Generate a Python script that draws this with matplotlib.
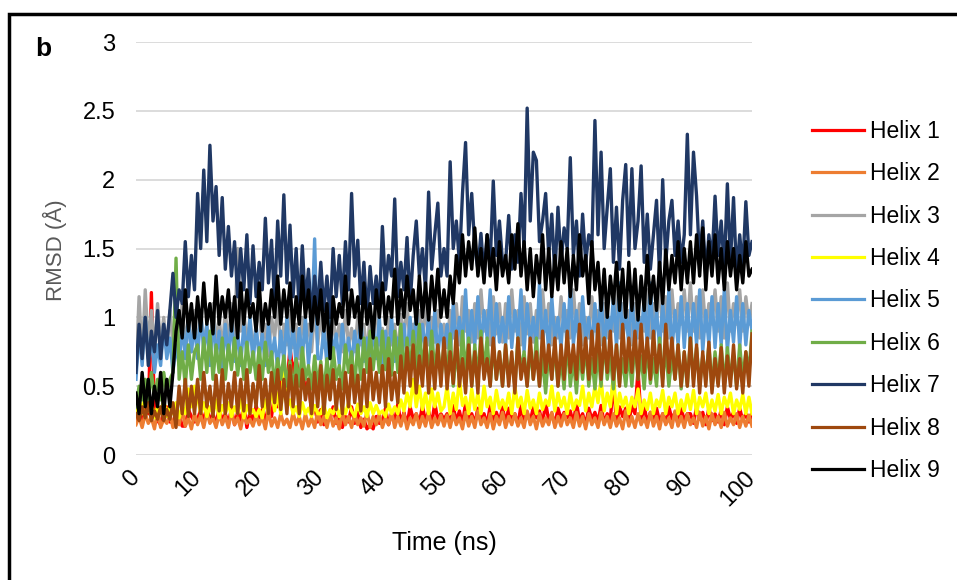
import matplotlib
matplotlib.use("Agg")
import matplotlib.pyplot as plt
from matplotlib.patches import Rectangle

plt.rcParams['font.family'] = ['Liberation Sans', 'DejaVu Sans']

# sampled every 0.5 ns
time_ns = [i * 0.5 for i in range(201)]

helix1 = [0.25, 0.32, 0.22, 0.35, 0.3, 1.18, 0.3, 0.25, 0.22, 0.33, 0.35, 0.24, 0.24, 0.3, 0.3, 0.21, 0.21, 0.33, 0.28, 0.24,
          0.26, 0.33, 0.22, 0.38, 0.24, 0.3, 0.22, 0.34, 0.25, 0.3, 0.23, 0.34, 0.22, 0.31, 0.25, 0.36, 0.2, 0.31, 0.24, 0.36,
          0.27, 0.33, 0.24, 0.36, 0.28, 0.45, 0.35, 0.55, 0.62, 0.5, 0.78, 0.6, 0.7, 0.55, 0.65, 0.45, 0.55, 0.3, 0.35, 0.24,
          0.33, 0.22, 0.3, 0.26, 0.35, 0.23, 0.31, 0.2, 0.28, 0.24, 0.35, 0.23, 0.31, 0.2, 0.26, 0.19, 0.22, 0.19, 0.28, 0.23,
          0.24, 0.34, 0.22, 0.3, 0.25, 0.37, 0.23, 0.31, 0.22, 0.35, 0.26, 0.3, 0.23, 0.36, 0.24, 0.32, 0.22, 0.38, 0.25, 0.3,
          0.26, 0.3, 0.23, 0.36, 0.24, 0.32, 0.22, 0.38, 0.25, 0.3, 0.23, 0.34, 0.26, 0.3, 0.22, 0.36, 0.25, 0.31, 0.24, 0.35,
          0.23, 0.34, 0.26, 0.3, 0.22, 0.36, 0.25, 0.31, 0.24, 0.35, 0.27, 0.32, 0.23, 0.38, 0.25, 0.3, 0.22, 0.34, 0.26, 0.31,
          0.27, 0.32, 0.23, 0.38, 0.25, 0.3, 0.22, 0.34, 0.26, 0.31, 0.24, 0.36, 0.23, 0.3, 0.25, 0.55, 0.22, 0.35, 0.28, 0.34,
          0.24, 0.36, 0.3, 0.62, 0.25, 0.36, 0.23, 0.31, 0.26, 0.34, 0.24, 0.3, 0.23, 0.35, 0.26, 0.31, 0.22, 0.34, 0.25, 0.3,
          0.3, 0.23, 0.35, 0.26, 0.31, 0.22, 0.34, 0.25, 0.3, 0.24, 0.33, 0.22, 0.35, 0.26, 0.31, 0.23, 0.34, 0.25, 0.3, 0.24,
          0.3]
helix2 = [0.22, 0.28, 0.2, 0.3, 0.23, 0.27, 0.19, 0.32, 0.2, 0.26, 0.23, 0.3, 0.2, 0.28, 0.22, 0.33, 0.21, 0.27, 0.19, 0.3,
          0.22, 0.29, 0.2, 0.31, 0.23, 0.27, 0.2, 0.3, 0.22, 0.28, 0.2, 0.31, 0.22, 0.27, 0.19, 0.3, 0.23, 0.26, 0.21, 0.29,
          0.22, 0.28, 0.19, 0.32, 0.21, 0.27, 0.2, 0.3, 0.22, 0.26, 0.2, 0.31, 0.22, 0.28, 0.19, 0.3, 0.21, 0.27, 0.2, 0.32,
          0.22, 0.28, 0.2, 0.3, 0.21, 0.27, 0.19, 0.31, 0.22, 0.28, 0.2, 0.3, 0.22, 0.27, 0.21, 0.32, 0.2, 0.28, 0.22, 0.3,
          0.2, 0.27, 0.22, 0.31, 0.2, 0.28, 0.21, 0.3, 0.19, 0.27, 0.22, 0.3, 0.2, 0.28, 0.21, 0.31, 0.2, 0.27, 0.22, 0.29,
          0.21, 0.29, 0.2, 0.3, 0.22, 0.27, 0.19, 0.31, 0.21, 0.28, 0.2, 0.32, 0.22, 0.27, 0.2, 0.3, 0.19, 0.28, 0.22, 0.31,
          0.2, 0.28, 0.22, 0.3, 0.21, 0.27, 0.2, 0.32, 0.22, 0.28, 0.19, 0.3, 0.21, 0.27, 0.22, 0.31, 0.2, 0.28, 0.21, 0.3,
          0.22, 0.27, 0.2, 0.31, 0.21, 0.28, 0.19, 0.3, 0.22, 0.27, 0.2, 0.31, 0.22, 0.28, 0.2, 0.3, 0.21, 0.27, 0.19, 0.32,
          0.21, 0.28, 0.2, 0.3, 0.22, 0.27, 0.2, 0.31, 0.21, 0.28, 0.19, 0.3, 0.22, 0.27, 0.2, 0.32, 0.21, 0.28, 0.2, 0.3,
          0.22, 0.27, 0.2, 0.31, 0.21, 0.28, 0.19, 0.3, 0.22, 0.28, 0.2, 0.31, 0.21, 0.27, 0.22, 0.3, 0.2, 0.28, 0.21, 0.29,
          0.21]
helix3 = [0.6, 1.15, 0.7, 1.2, 0.8, 1.05, 0.75, 1.1, 0.8, 1.0, 0.75, 1.05, 0.8, 0.95, 0.85, 1.1, 0.8, 1.0, 0.75, 1.05,
          0.75, 1.05, 0.8, 0.95, 0.7, 1.1, 0.8, 1.0, 0.75, 1.05, 0.8, 1.1, 0.85, 1.5, 0.9, 1.05, 0.8, 1.0, 0.75, 0.95,
          1.05, 0.8, 0.95, 0.72, 1.0, 0.85, 1.1, 0.75, 0.95, 0.8, 1.05, 0.78, 0.95, 0.7, 1.0, 0.82, 0.95, 0.75, 1.05, 0.8,
          1.05, 0.78, 0.95, 0.7, 1.0, 0.82, 0.95, 0.75, 1.05, 0.8, 0.92, 0.75, 1.0, 0.8, 0.95, 0.72, 1.02, 0.85, 1.1, 0.8,
          0.92, 0.75, 1.0, 0.8, 0.95, 0.72, 1.02, 0.85, 1.1, 0.8, 0.95, 0.78, 1.05, 0.85, 1.1, 0.8, 1.0, 0.82, 1.05, 0.85,
          0.95, 0.78, 1.05, 0.85, 1.1, 0.8, 1.15, 0.9, 1.05, 0.82, 1.1, 0.85, 1.2, 0.9, 1.05, 0.8, 1.15, 0.88, 1.1, 0.82,
          1.1, 0.85, 1.2, 0.9, 1.05, 0.8, 1.15, 0.88, 1.1, 0.82, 1.05, 0.85, 1.2, 0.9, 1.1, 0.8, 1.0, 0.85, 1.15, 0.9,
          1.05, 0.85, 1.2, 0.9, 1.1, 0.8, 1.0, 0.85, 1.15, 0.9, 1.05, 0.8, 1.1, 0.85, 1.0, 0.9, 1.2, 0.85, 1.1, 0.95,
          1.05, 0.8, 1.1, 0.85, 1.0, 0.9, 1.2, 0.85, 1.1, 0.95, 1.25, 0.9, 1.15, 0.85, 1.2, 0.9, 1.1, 0.95, 1.2, 0.9,
          1.25, 0.9, 1.15, 0.85, 1.2, 0.9, 1.1, 0.95, 1.2, 0.9, 1.15, 0.85, 1.25, 0.9, 1.1, 0.95, 1.2, 0.9, 1.15, 0.95,
          1.1]
helix4 = [0.28, 0.4, 0.3, 0.45, 0.32, 0.38, 0.27, 0.35, 0.3, 0.4, 0.28, 0.36, 0.3, 0.38, 0.27, 0.35, 0.3, 0.48, 0.35, 0.5,
          0.42, 0.3, 0.38, 0.28, 0.35, 0.3, 0.4, 0.27, 0.36, 0.3, 0.38, 0.28, 0.35, 0.3, 0.4, 0.27, 0.36, 0.3, 0.33, 0.28,
          0.33, 0.27, 0.4, 0.3, 0.5, 0.32, 0.45, 0.3, 0.65, 0.35, 0.4, 0.3, 0.35, 0.28, 0.38, 0.3, 0.34, 0.28, 0.36, 0.3,
          0.3, 0.37, 0.27, 0.33, 0.3, 0.36, 0.28, 0.35, 0.3, 0.38, 0.32, 0.28, 0.37, 0.3, 0.35, 0.28, 0.38, 0.3, 0.36, 0.3,
          0.32, 0.28, 0.37, 0.3, 0.35, 0.3, 0.4, 0.32, 0.45, 0.35, 0.55, 0.35, 0.5, 0.33, 0.45, 0.3, 0.48, 0.35, 0.45, 0.32,
          0.35, 0.5, 0.3, 0.45, 0.33, 0.55, 0.36, 0.42, 0.3, 0.48, 0.33, 0.45, 0.3, 0.5, 0.35, 0.42, 0.3, 0.47, 0.34, 0.4,
          0.33, 0.45, 0.3, 0.5, 0.35, 0.42, 0.3, 0.47, 0.34, 0.4, 0.3, 0.45, 0.33, 0.4, 0.36, 0.5, 0.32, 0.45, 0.35, 0.42,
          0.3, 0.45, 0.33, 0.4, 0.36, 0.5, 0.32, 0.45, 0.35, 0.5, 0.38, 0.55, 0.32, 0.45, 0.35, 0.58, 0.3, 0.45, 0.35, 0.42,
          0.3, 0.42, 0.35, 0.48, 0.3, 0.4, 0.33, 0.45, 0.3, 0.4, 0.35, 0.47, 0.3, 0.42, 0.35, 0.45, 0.3, 0.4, 0.32, 0.44,
          0.33, 0.47, 0.3, 0.42, 0.35, 0.45, 0.3, 0.4, 0.32, 0.44, 0.3, 0.42, 0.35, 0.45, 0.3, 0.4, 0.33, 0.44, 0.3, 0.42,
          0.3]
helix5 = [0.55, 0.9, 0.65, 1.0, 0.7, 0.85, 0.6, 0.8, 0.65, 0.95, 0.7, 0.85, 0.6, 0.8, 0.65, 0.95, 0.7, 1.0, 0.75, 0.95,
          0.7, 1.05, 0.75, 0.95, 0.65, 1.0, 0.7, 0.9, 0.62, 0.95, 0.7, 1.0, 0.68, 0.9, 0.65, 0.95, 0.72, 1.0, 0.66, 0.95,
          0.7, 0.88, 0.65, 0.95, 0.7, 0.85, 0.62, 0.9, 0.68, 1.0, 0.7, 0.95, 0.65, 0.92, 0.7, 1.0, 0.66, 0.9, 1.57, 0.7,
          0.7, 0.92, 0.65, 1.0, 0.72, 0.88, 0.66, 0.95, 0.7, 0.85, 0.65, 0.9, 0.7, 1.0, 0.68, 0.85, 0.62, 0.95, 0.7, 1.0,
          0.65, 0.9, 0.7, 1.0, 0.68, 0.85, 0.62, 0.95, 0.7, 1.0, 0.72, 1.05, 0.7, 0.95, 0.75, 1.0, 0.7, 1.05, 0.72, 0.95,
          0.75, 0.95, 0.7, 1.1, 0.78, 1.0, 0.8, 1.2, 0.75, 1.05, 0.8, 1.15, 0.78, 1.05, 0.85, 1.2, 0.75, 1.1, 0.82, 1.0,
          0.8, 1.15, 0.78, 1.05, 0.85, 1.2, 0.75, 1.1, 0.82, 1.0, 0.78, 1.25, 0.8, 1.05, 0.75, 1.15, 0.82, 1.0, 0.78, 1.1,
          0.78, 1.25, 0.8, 1.05, 0.75, 1.15, 0.82, 1.0, 0.78, 1.1, 0.8, 1.2, 0.75, 1.05, 0.85, 1.15, 0.78, 1.25, 0.82, 1.05,
          0.8, 1.2, 0.75, 1.05, 0.85, 1.15, 0.78, 1.25, 0.82, 1.05, 0.78, 1.1, 0.8, 1.2, 0.75, 1.05, 0.8, 1.15, 0.78, 1.1,
          0.78, 1.1, 0.8, 1.2, 0.75, 1.05, 0.8, 1.15, 0.78, 1.1, 0.8, 1.2, 0.75, 1.05, 0.82, 1.15, 0.78, 1.1, 0.8, 1.05,
          0.9]
helix6 = [0.35, 0.5, 0.4, 0.55, 0.38, 0.6, 0.42, 0.55, 0.4, 0.6, 0.45, 0.55, 0.6, 1.43, 0.55, 0.75, 0.5, 0.8, 0.55, 0.75,
          0.8, 0.55, 0.85, 0.6, 0.9, 0.55, 0.8, 0.6, 0.85, 0.55, 0.8, 0.62, 0.85, 0.58, 0.78, 0.55, 0.82, 0.6, 0.75, 0.55,
          0.78, 0.55, 0.82, 0.6, 0.75, 0.5, 0.7, 0.55, 0.72, 0.5, 0.68, 0.45, 0.7, 0.5, 0.78, 0.55, 0.65, 0.48, 0.72, 0.5,
          0.68, 0.45, 0.7, 0.5, 0.78, 0.55, 0.65, 0.48, 0.8, 0.6, 0.75, 0.5, 0.8, 0.55, 0.85, 0.6, 0.9, 0.62, 0.85, 0.6,
          0.9, 0.62, 0.85, 0.58, 0.9, 0.6, 0.95, 0.55, 0.85, 0.6, 0.9, 0.62, 0.95, 0.6, 0.85, 0.55, 0.9, 0.6, 0.8, 0.55,
          0.8, 0.55, 0.88, 0.5, 0.75, 0.55, 0.9, 0.6, 0.85, 0.5, 0.8, 0.55, 0.9, 0.6, 0.85, 0.5, 0.8, 0.55, 0.75, 0.5,
          0.8, 0.55, 0.7, 0.5, 0.85, 0.6, 0.75, 0.5, 0.78, 0.55, 0.85, 0.5, 0.7, 0.45, 0.75, 0.55, 0.8, 0.5, 0.7, 0.48,
          0.85, 0.5, 0.7, 0.45, 0.75, 0.55, 0.8, 0.5, 0.7, 0.48, 0.75, 0.5, 0.85, 0.55, 0.72, 0.48, 0.8, 0.52, 0.7, 0.5,
          0.75, 0.5, 0.85, 0.55, 0.72, 0.48, 0.8, 0.52, 0.7, 0.5, 0.85, 0.55, 0.78, 0.5, 0.72, 0.55, 0.8, 0.48, 0.75, 0.5,
          0.85, 0.55, 0.78, 0.5, 0.72, 0.55, 0.8, 0.48, 0.75, 0.52, 0.8, 0.5, 0.78, 0.55, 0.72, 0.5, 0.8, 0.55, 0.75, 0.6,
          0.9]
helix7 = [0.6, 0.95, 0.7, 1.0, 0.65, 0.9, 0.75, 1.05, 0.7, 0.95, 0.8, 1.05, 1.32, 1.0, 1.2, 1.1, 1.55, 1.15, 1.45, 1.2,
          1.9, 1.5, 2.07, 1.55, 2.25, 1.7, 1.95, 1.45, 1.87, 1.35, 1.66, 1.3, 1.55, 1.15, 1.5, 1.2, 1.6, 1.1, 1.52, 1.15,
          1.4, 1.2, 1.72, 1.25, 1.56, 1.1, 1.7, 1.3, 1.89, 1.25, 1.67, 1.15, 1.5, 1.05, 1.52, 1.1, 1.35, 1.0, 1.3, 1.05,
          1.4, 1.05, 1.3, 1.0, 1.5, 1.15, 1.45, 1.1, 1.55, 1.2, 1.9, 1.3, 1.56, 1.1, 1.4, 1.0, 1.37, 1.1, 1.3, 1.05,
          1.66, 1.2, 1.45, 1.3, 1.86, 1.15, 1.4, 1.2, 1.58, 1.1, 1.45, 1.7, 1.3, 1.5, 1.2, 1.91, 1.35, 1.6, 1.83, 1.3,
          1.5, 1.3, 2.13, 1.5, 1.7, 1.4, 1.9, 2.27, 1.6, 1.9, 1.5, 1.35, 1.61, 1.3, 1.6, 1.4, 1.99, 1.45, 1.7, 1.4,
          1.4, 1.74, 1.35, 1.6, 1.4, 1.9, 1.5, 2.52, 1.7, 2.2, 2.14, 1.55, 1.7, 1.9, 1.45, 1.75, 1.3, 1.8, 1.4, 1.65,
          1.5, 2.16, 1.45, 1.7, 1.3, 1.75, 1.4, 1.6, 1.5, 2.43, 1.6, 2.2, 1.5, 1.8, 2.08, 1.4, 1.8, 1.35, 1.85, 2.11,
          1.45, 2.08, 1.5, 1.7, 2.1, 1.4, 1.75, 1.35, 1.6, 1.85, 1.3, 2.0, 1.4, 1.7, 1.85, 1.45, 1.7, 1.4, 1.6, 2.33,
          1.6, 2.2, 1.88, 1.4, 1.7, 1.3, 1.6, 1.4, 1.88, 1.45, 1.7, 1.35, 1.97, 1.4, 1.87, 1.3, 1.6, 1.35, 1.84, 1.45,
          1.55]
helix8 = [0.3, 0.25, 0.35, 0.27, 0.38, 0.25, 0.32, 0.26, 0.35, 0.25, 0.33, 0.26, 0.38, 0.2, 0.5, 0.3, 0.55, 0.28, 0.5, 0.3,
          0.55, 0.3, 0.6, 0.35, 0.5, 0.28, 0.58, 0.32, 0.62, 0.3, 0.52, 0.35, 0.6, 0.3, 0.55, 0.32, 0.62, 0.3, 0.52, 0.35,
          0.65, 0.35, 0.55, 0.3, 0.6, 0.38, 0.62, 0.33, 0.55, 0.3, 0.65, 0.35, 0.58, 0.3, 0.62, 0.4, 0.55, 0.3, 0.6, 0.35,
          0.65, 0.3, 0.58, 0.4, 0.62, 0.33, 0.55, 0.3, 0.6, 0.35, 0.65, 0.38, 0.58, 0.32, 0.62, 0.35, 0.7, 0.4, 0.6, 0.38,
          0.65, 0.35, 0.7, 0.4, 0.6, 0.38, 0.72, 0.45, 0.78, 0.5, 0.8, 0.45, 0.72, 0.5, 0.85, 0.45, 0.75, 0.48, 0.8, 0.5,
          0.85, 0.48, 0.75, 0.52, 0.9, 0.5, 0.7, 0.45, 0.8, 0.5, 0.75, 0.45, 0.85, 0.55, 0.7, 0.5, 0.85, 0.55, 0.75, 0.5,
          0.8, 0.5, 0.75, 0.45, 0.85, 0.55, 0.7, 0.5, 0.85, 0.55, 0.75, 0.5, 0.9, 0.6, 0.8, 0.55, 0.85, 0.5, 0.8, 0.55,
          0.9, 0.6, 0.8, 0.55, 0.95, 0.6, 0.85, 0.55, 0.9, 0.6, 0.95, 0.55, 0.85, 0.6, 0.9, 0.55, 0.8, 0.5, 0.95, 0.6,
          0.85, 0.6, 0.9, 0.55, 0.95, 0.6, 0.85, 0.55, 0.9, 0.6, 0.8, 0.5, 0.95, 0.6, 0.85, 0.55, 0.8, 0.5, 0.75, 0.5,
          0.85, 0.5, 0.8, 0.45, 0.75, 0.5, 0.82, 0.45, 0.7, 0.5, 0.78, 0.45, 0.72, 0.5, 0.8, 0.48, 0.7, 0.45, 0.75, 0.5,
          0.88]
helix9 = [0.45, 0.3, 0.6, 0.35, 0.55, 0.3, 0.5, 0.35, 0.6, 0.3, 0.55, 0.35, 0.6, 0.9, 1.05, 0.85, 1.2, 0.9, 1.1, 0.85,
          1.15, 0.9, 1.25, 0.95, 1.1, 0.88, 1.3, 0.95, 1.15, 1.0, 1.2, 0.9, 1.15, 0.85, 1.25, 0.95, 1.2, 1.0, 1.1, 0.9,
          1.25, 0.9, 1.1, 0.95, 1.2, 1.0, 1.3, 0.95, 1.2, 1.0, 1.25, 0.9, 1.15, 0.95, 1.3, 1.0, 1.2, 0.9, 1.15, 0.95,
          1.2, 0.9, 1.1, 0.7, 1.15, 0.95, 1.1, 1.0, 1.3, 0.95, 1.2, 1.0, 1.15, 0.85, 1.25, 0.95, 1.1, 0.85, 1.2, 1.0,
          1.25, 0.95, 1.15, 1.0, 1.35, 0.95, 1.2, 1.0, 1.3, 1.05, 1.2, 0.95, 1.3, 1.0, 1.25, 0.98, 1.3, 1.05, 1.35, 1.0,
          1.2, 1.0, 1.3, 1.1, 1.45, 1.25, 1.6, 1.3, 1.55, 1.35, 1.65, 1.3, 1.5, 1.25, 1.6, 1.3, 1.5, 1.2, 1.55, 1.3,
          1.45, 1.25, 1.6, 1.35, 1.68, 1.3, 1.55, 1.2, 1.5, 1.15, 1.45, 1.25, 1.6, 1.2, 1.5, 1.15, 1.45, 1.2, 1.55, 1.25,
          1.5, 1.15, 1.45, 1.2, 1.6, 1.3, 1.45, 1.1, 1.55, 1.2, 1.4, 1.05, 1.35, 1.0, 1.3, 1.1, 1.4, 1.05, 1.35, 1.0,
          1.4, 1.05, 1.35, 0.98, 1.3, 1.05, 1.45, 1.1, 1.3, 1.05, 1.4, 1.1, 1.49, 1.2, 1.45, 1.25, 1.55, 1.2, 1.5, 1.25,
          1.55, 1.25, 1.6, 1.3, 1.65, 1.2, 1.55, 1.3, 1.6, 1.25, 1.5, 1.2, 1.55, 1.3, 1.5, 1.2, 1.45, 1.25, 1.55, 1.3,
          1.35]

series = [helix1, helix2, helix3, helix4, helix5, helix6, helix7, helix8, helix9]
labels = ['Helix 1', 'Helix 2', 'Helix 3', 'Helix 4', 'Helix 5',
          'Helix 6', 'Helix 7', 'Helix 8', 'Helix 9']
colors = ['#FF0000', '#ED7D31', '#A5A5A5', '#FFFF00', '#5B9BD5',
          '#70AD47', '#203864', '#9E480E', '#000000']

fig = plt.figure(figsize=(9.57, 5.8), dpi=100)
ax = fig.add_axes([0.1421, 0.2155, 0.6437, 0.712])

for vals, lab, col in zip(series, labels, colors):
    ax.plot(time_ns, vals, color=col, linewidth=2.4, label=lab)

ax.set_xlim(0, 100)
ax.set_ylim(0, 3)
ax.set_yticks([0, 0.5, 1, 1.5, 2, 2.5, 3])
ax.set_yticklabels(['0', '0.5', '1', '1.5', '2', '2.5', '3'])
ax.set_xticks(range(0, 101, 10))
ax.grid(axis='y', color='#D9D9D9', linewidth=1.3)
ax.set_axisbelow(True)
for s in ax.spines.values():
    s.set_visible(False)
ax.tick_params(axis='both', length=0, labelsize=17)
ax.tick_params(axis='y', pad=15)
ax.tick_params(axis='x', pad=14)
for t in ax.get_xticklabels():
    t.set_rotation(45)
    t.set_ha('right')
    t.set_va('center')
    t.set_rotation_mode('anchor')

fig.text(444 / 957, 1 - 543 / 580, 'Time (ns)', ha='center', va='center', fontsize=18)
fig.text(55 / 957, 1 - 250 / 580, 'RMSD (Å)', ha='center', va='center',
         rotation=90, fontsize=16, color='#595959')
fig.text(43 / 957, 1 - 49 / 580, 'b', ha='center', va='center',
         fontsize=19, fontweight='bold')

leg_handles = [plt.Line2D([], [], color=c, linewidth=2.3) for c in colors]
ax.legend(leg_handles, labels, loc='center left',
          bbox_to_anchor=(812 / 957, 1 - 301 / 580),
          bbox_transform=fig.transFigure, frameon=False, fontsize=16.5,
          handlelength=2.27, handletextpad=0.26, labelspacing=0.85,
          borderpad=0, borderaxespad=0)

fig.patches.append(Rectangle((9 / 957, -0.1), 1.2, 1 - 14 / 580 + 0.1,
                             transform=fig.transFigure, fill=False,
                             edgecolor='black', linewidth=2.5))

fig.savefig('out.png', dpi=100)
